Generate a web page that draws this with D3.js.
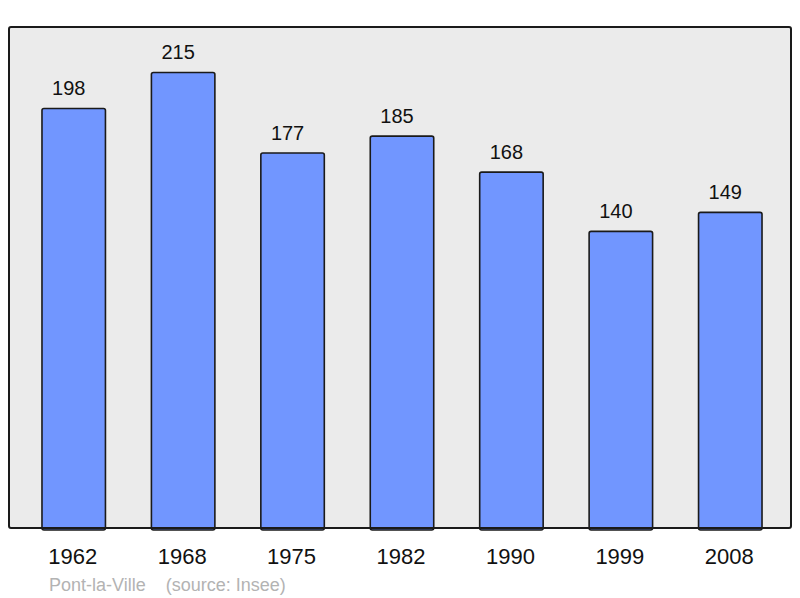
<!DOCTYPE html>
<html>
<head>
<meta charset="utf-8">
<script src="https://cdn.jsdelivr.net/npm/d3@7"></script>
<style>
  body { margin: 0; background: #fff; }
  text { font-family: "Liberation Sans", Arial, sans-serif; }
</style>
</head>
<body>
<div id="chart"></div>
<script>
// Population data
const years = ["1962", "1968", "1975", "1982", "1990", "1999", "2008"];
const population = [198, 215, 177, 185, 168, 140, 149];
const townName = "Pont-la-Ville";
const sourceNote = "(source: Insee)";

const width = 800;
const height = 598;

// Plot frame
const frame = { left: 9, top: 27, right: 791, bottom: 528 };

let svg = d3.select("#chart")
  .append("svg")
  .attr("width", width)
  .attr("height", height);

// Scales
let x = d3.scaleBand()
  .domain(years)
  .range([19, 785])
  .paddingInner(0.42)
  .paddingOuter(0.21);

let y = d3.scaleLinear()
  .domain([0, d3.max(population) * 1.1])
  .range([frame.bottom, frame.top]);

// Background panel
svg.append("rect")
  .attr("x", frame.left)
  .attr("y", frame.top)
  .attr("width", frame.right - frame.left)
  .attr("height", frame.bottom - frame.top)
  .attr("rx", 2)
  .attr("fill", "#ebebeb")
  .attr("stroke", "none");

// Bars
svg.selectAll(".bar")
  .data(population)
  .join("rect")
  .attr("class", "bar")
  .attr("x", (d, i) => x(years[i]))
  .attr("y", d => y(d))
  .attr("width", x.bandwidth())
  .attr("height", d => y(0) - y(d) + 2)
  .attr("rx", 2)
  .attr("fill", "#7196ff")
  .attr("stroke", "#1a1a1a")
  .attr("stroke-width", 1.6);

// Frame on top
svg.append("rect")
  .attr("x", frame.left)
  .attr("y", frame.top)
  .attr("width", frame.right - frame.left)
  .attr("height", frame.bottom - frame.top)
  .attr("rx", 2)
  .attr("fill", "none")
  .attr("stroke", "#1a1a1a")
  .attr("stroke-width", 2);

// Value labels (sit slightly left of the bar centre, as in the original)
svg.selectAll(".value")
  .data(population)
  .join("text")
  .attr("class", "value")
  .attr("x", (d, i) => x(years[i]) + x.bandwidth() / 2 - 5)
  .attr("y", d => y(d) - 13.5)
  .attr("text-anchor", "middle")
  .attr("font-size", 20)
  .attr("fill", "#111")
  .text(d => d);

// Year axis
let xAxis = d3.axisBottom(x).tickSize(0).tickPadding(0);
let gx = svg.append("g")
  .attr("transform", "translate(0," + frame.bottom + ")")
  .call(xAxis);
gx.select(".domain").remove();
gx.selectAll("text")
  .attr("dy", null)
  .attr("x", -1)
  .attr("y", 36)
  .attr("font-size", 22)
  .attr("font-family", "'Liberation Sans', Arial, sans-serif")
  .attr("fill", "#111");

// Source note
svg.append("text")
  .attr("x", 49)
  .attr("y", 590.5)
  .attr("font-size", 18)
  .attr("fill", "#b3b3b3")
  .attr("xml:space", "preserve")
  .text(townName + "    " + sourceNote);
</script>
</body>
</html>
